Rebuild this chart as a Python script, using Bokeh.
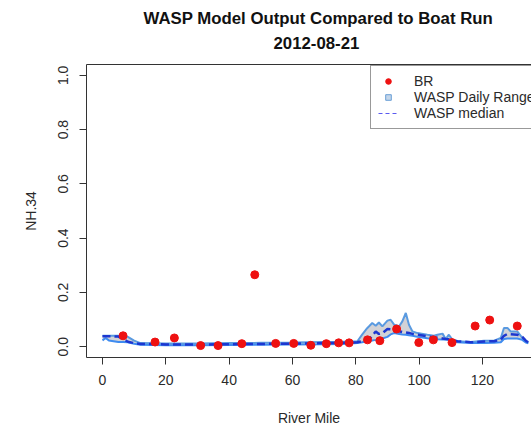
from bokeh.plotting import figure
from bokeh.models import (Range1d, LinearAxis, FixedTicker, Legend, LegendItem,
                          Title, NumeralTickFormatter)
from bokeh.embed import file_html
from bokeh.resources import INLINE

# WASP model daily range (min / max) and median along the river
wasp_mile = [0, 1, 2, 3.5, 5, 6.5, 8, 10, 12, 20, 30, 40, 50, 60, 70, 76, 80.5,
             82, 83.6, 84.2, 85.2, 86.3, 87.3, 88.4, 90, 91, 92.1, 93.7, 94.7,
             95.8, 96.8, 97.9, 99.5, 102.6, 104.7, 105.8, 107.4, 108.4, 109.4,
             110.5, 112.1, 116.3, 120.5, 123.7, 125.8, 126.8, 127.9, 128.9, 131,
             132.6, 133.7, 134.5]
wasp_upper = [0.040, 0.040, 0.040, 0.040, 0.040, 0.040, 0.036, 0.022, 0.013,
              0.012, 0.012, 0.013, 0.014, 0.015, 0.017, 0.018, 0.020,
              0.044, 0.068, 0.075, 0.087, 0.077, 0.089, 0.075, 0.096, 0.099,
              0.081, 0.075, 0.093, 0.124, 0.081, 0.056, 0.050, 0.044, 0.040,
              0.044, 0.048, 0.028, 0.044, 0.026, 0.020, 0.017, 0.022, 0.022,
              0.032, 0.069, 0.069, 0.056, 0.056, 0.032, 0.020, 0.015]
wasp_lower = [0.023, 0.032, 0.023, 0.020, 0.017, 0.017, 0.016, 0.011, 0.007,
              0.005, 0.005, 0.006, 0.007, 0.008, 0.009, 0.010, 0.013,
              0.016, 0.020, 0.021, 0.023, 0.025, 0.027, 0.030, 0.036, 0.045,
              0.050, 0.047, 0.045, 0.044, 0.042, 0.040, 0.036, 0.031, 0.028,
              0.027, 0.026, 0.026, 0.025, 0.022, 0.016, 0.013, 0.013, 0.014,
              0.016, 0.028, 0.030, 0.030, 0.030, 0.025, 0.015, 0.012]
wasp_median = [0.038, 0.038, 0.038, 0.038, 0.037, 0.028, 0.018, 0.013, 0.010,
               0.008, 0.008, 0.009, 0.010, 0.011, 0.013, 0.014, 0.016,
               0.020, 0.024, 0.026, 0.040, 0.056, 0.047, 0.050, 0.065, 0.064,
               0.062, 0.057, 0.054, 0.052, 0.050, 0.047, 0.044, 0.038, 0.035,
               0.033, 0.030, 0.028, 0.027, 0.024, 0.020, 0.016, 0.019, 0.020,
               0.026, 0.040, 0.047, 0.046, 0.044, 0.036, 0.022, 0.016]

# Boat run (BR) samples
br_mile = [6.5, 16.6, 22.7, 31.0, 36.5, 44.0, 48.1, 54.7, 60.4, 65.8, 70.7,
           74.6, 77.9, 83.7, 87.6, 92.9, 99.9, 104.5, 110.4, 117.7, 122.3, 131.0]
br_value = [0.040, 0.017, 0.032, 0.004, 0.004, 0.011, 0.265, 0.012, 0.012,
            0.005, 0.011, 0.014, 0.014, 0.025, 0.022, 0.065, 0.015, 0.025,
            0.015, 0.076, 0.098, 0.076]

x_ticks = [0, 20, 40, 60, 80, 100, 120]
y_ticks = [0.0, 0.2, 0.4, 0.6, 0.8, 1.0]

FONT = "Liberation Sans"
INK = "#2a2a2a"
NAN = float("nan")

p = figure(width=531, height=428, output_backend="svg", toolbar_location=None,
           x_range=Range1d(-5.05, 135.5), y_range=Range1d(-0.04, 1.04),
           min_border_left=86, min_border_right=0, min_border_bottom=71,
           min_border_top=64,
           x_axis_label="River Mile", y_axis_label="NH.34")
p.grid.visible = False
p.outline_line_color = None
p.background_fill_color = "white"
p.border_fill_color = "white"

# daily range band
p.varea(x=wasp_mile, y1=wasp_lower, y2=wasp_upper, fill_color="#d2d2d6")
p.line(wasp_mile, wasp_upper, line_color="#5a9ae0", line_width=2)
p.line(wasp_mile, wasp_lower, line_color="#3f8cf0", line_width=2)
p.line(wasp_mile, wasp_median, line_color="#1c36d0", line_width=2.5,
       line_dash="8 4")
br = p.scatter(br_mile, br_value, size=8, fill_color="#ee1111",
               line_color="#ee1111")

# legend keys (not plotted inside the frame)
range_key = p.scatter(x=[NAN], y=[NAN], marker="square", size=7,
                      fill_color="#c4d6ea", line_color="#6a9fd6")
median_key = p.line(x=[NAN, NAN], y=[NAN, NAN], line_color="#5a5af0",
                    line_width=1, line_dash="4 3")

# axes
for ax in (p.xaxis[0], p.yaxis[0]):
    ax.axis_line_color = "#333333"
    ax.major_tick_line_color = "#333333"
    ax.major_tick_out = 7
    ax.major_tick_in = 0
    ax.minor_tick_out = 0
    ax.minor_tick_in = 0
    ax.major_label_text_font = FONT
    ax.major_label_text_font_size = "14px"
    ax.major_label_text_color = INK
    ax.axis_label_text_font = FONT
    ax.axis_label_text_font_size = "14px"
    ax.axis_label_text_font_style = "normal"
    ax.axis_label_text_color = INK

p.xaxis[0].ticker = FixedTicker(ticks=x_ticks, minor_ticks=[])
p.xaxis[0].major_label_standoff = 10
p.xaxis[0].axis_label_standoff = 22

p.yaxis[0].ticker = FixedTicker(ticks=y_ticks, minor_ticks=[])
p.yaxis[0].formatter = NumeralTickFormatter(format="0.0")
p.yaxis[0].major_label_orientation = "vertical"
p.yaxis[0].major_label_standoff = 11
p.yaxis[0].axis_label_standoff = 17

# top edge of the plot box
top = LinearAxis(ticker=FixedTicker(ticks=[]), axis_line_color="#333333",
                 major_tick_out=0, major_tick_in=0, minor_tick_out=0,
                 minor_tick_in=0, major_tick_line_color=None,
                 major_label_text_font_size="0px")
p.add_layout(top, "above")

# blank strip between the box and the two title lines
p.add_layout(Title(text=" ", text_font_size="1px", standoff=8), "above")

sub = Title(text="2012-08-21", align="left", offset=187,
            text_font=FONT, text_font_size="16.8px", text_font_style="bold",
            text_color="#111111", standoff=10)
p.add_layout(sub, "above")
main = Title(text="WASP Model Output Compared to Boat Run", align="left",
             offset=57, text_font=FONT, text_font_size="16.8px",
             text_font_style="bold", text_color="#111111", standoff=3)
p.add_layout(main, "above")

legend = Legend(items=[LegendItem(label="BR", renderers=[br]),
                       LegendItem(label="WASP Daily Range", renderers=[range_key]),
                       LegendItem(label="WASP median", renderers=[median_key])],
                location=(284, 228), orientation="vertical",
                label_text_font=FONT, label_text_font_size="14px",
                label_text_color=INK, glyph_width=20, glyph_height=14,
                label_height=14, spacing=0, padding=7, margin=0,
                label_standoff=16, border_line_color="#333333",
                border_line_width=1, background_fill_color="white",
                background_fill_alpha=1.0)
p.add_layout(legend)

open("out.html", "w").write(file_html(p, INLINE))
